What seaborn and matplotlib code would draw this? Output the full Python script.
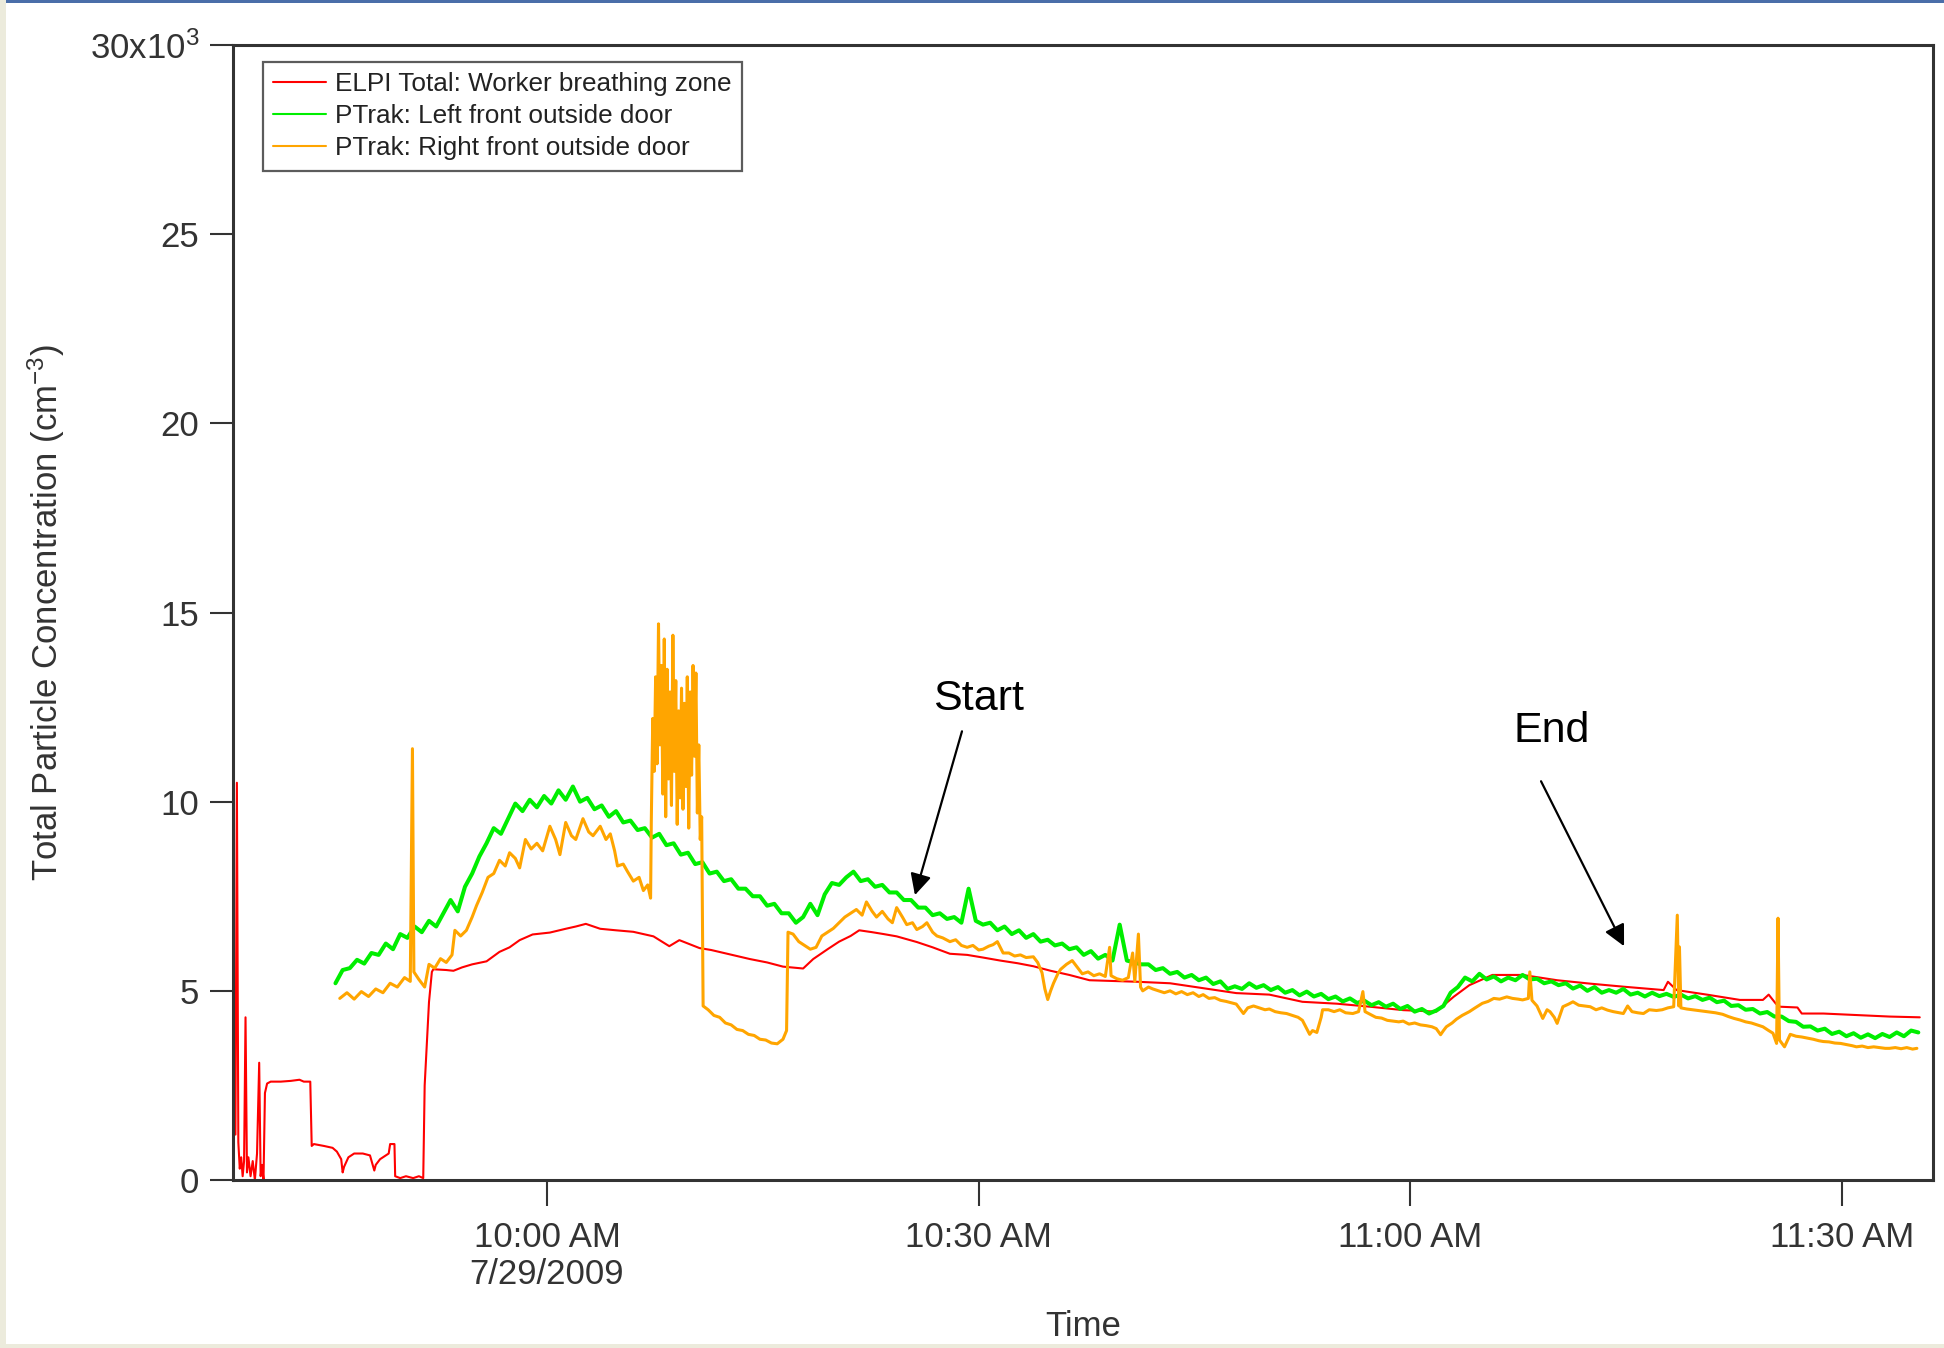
import numpy as np
import pandas as pd
import matplotlib
matplotlib.use("Agg")
import matplotlib.pyplot as plt
from matplotlib.patches import Rectangle
import seaborn as sns

# ---------------------------------------------------------------------------
# Data: minutes relative to 10:00 AM on 7/29/2009, concentrations in 10^3 cm^-3
# ---------------------------------------------------------------------------
T0 = pd.Timestamp("2009-07-29 10:00:00")

series_names = [
    "ELPI Total: Worker breathing zone",
    "PTrak: Left front outside door",
    "PTrak: Right front outside door",
]
series_colors = ["#ff0000", "#00ee00", "#ffa500"]

# ELPI total (worker breathing zone)
elpi_min = [
    -21.65, -21.55, -21.45, -21.35, -21.25, -21.15, -21.05, -20.95, -20.85, -20.75,
    -20.6, -20.45, -20.3, -20.15, -20.0, -19.9, -19.8, -19.7, -19.6, -19.45,
    -19.2, -18.5, -17.8, -17.2, -16.9, -16.45, -16.35, -16.2, -15.5, -14.9,
    -14.6, -14.3, -14.2, -14.1, -13.8, -13.4, -12.8, -12.3, -12.0, -11.9,
    -11.6, -11.2, -11.0, -10.9, -10.6, -10.55, -10.2, -9.8, -9.3, -8.9,
    -8.6, -8.5, -8.35, -8.2, -8.0, -7.9, -7.0, -6.5, -5.9, -5.2,
    -4.2, -3.3, -2.6, -1.9, -1.0, 0.2, 1.3, 2.0, 2.7, 3.7,
    4.8, 6.0, 7.4, 8.5, 9.2, 10.6, 11.4, 12.3, 13.2, 14.1,
    15.3, 16.4, 17.8, 18.5, 19.5, 20.3, 21.1, 21.7, 22.6, 23.4,
    24.3, 25.7, 26.8, 28.0, 29.2, 30.3, 31.5, 32.7, 33.8, 35.0,
    36.3, 37.7, 39.3, 41.0, 43.3, 45.6, 47.9, 50.2, 52.5, 54.9,
    57.2, 59.5, 61.8, 63.0, 64.1, 65.7, 67.8, 70.2, 72.5, 74.8,
    77.6, 77.9, 78.5, 80.6, 82.9, 84.5, 84.9, 85.4, 85.7, 86.9,
    87.2, 88.7, 91.0, 93.3, 95.4,
]
elpi_k = [
    1.2, 10.5, 1.0, 0.3, 0.6, 0.1, 0.5, 4.3, 0.2, 0.6,
    0.1, 0.5, 0.0, 0.7, 3.1, 0.1, 0.4, 0.0, 2.3, 2.55,
    2.6, 2.6, 2.62, 2.65, 2.6, 2.6, 0.9, 0.95, 0.9, 0.85,
    0.75, 0.55, 0.2, 0.35, 0.6, 0.7, 0.7, 0.65, 0.25, 0.4,
    0.55, 0.65, 0.7, 0.95, 0.95, 0.1, 0.05, 0.1, 0.05, 0.1,
    0.05, 2.5, 3.6, 4.7, 5.5, 5.57, 5.55, 5.53, 5.62, 5.7,
    5.78, 6.03, 6.15, 6.34, 6.49, 6.54, 6.64, 6.7, 6.77, 6.64,
    6.6, 6.56, 6.44, 6.18, 6.34, 6.13, 6.08, 6.0, 5.92, 5.84,
    5.75, 5.64, 5.59, 5.84, 6.1, 6.3, 6.45, 6.6, 6.55, 6.5,
    6.44, 6.29, 6.15, 5.98, 5.95, 5.88, 5.8, 5.73, 5.65, 5.53,
    5.42, 5.28, 5.26, 5.24, 5.2, 5.07, 4.94, 4.9, 4.71, 4.66,
    4.58, 4.49, 4.45, 4.84, 5.15, 5.42, 5.42, 5.28, 5.19, 5.11,
    5.02, 5.24, 5.02, 4.9, 4.76, 4.76, 4.9, 4.66, 4.58, 4.56,
    4.4, 4.4, 4.36, 4.32, 4.3,
]

# PTrak left front door: logged every 0.5 min starting at 9:45:18
ptrak_left_start_min = -14.7
ptrak_left_step_min = 0.5
ptrak_left_k = [
    5.2, 5.55, 5.6, 5.82, 5.72, 6.0, 5.95, 6.25, 6.1, 6.5,
    6.4, 6.7, 6.55, 6.85, 6.7, 7.05, 7.4, 7.1, 7.75, 8.1,
    8.55, 8.9, 9.3, 9.15, 9.55, 9.95, 9.75, 10.05, 9.85, 10.15,
    9.95, 10.3, 10.05, 10.4, 10.0, 10.1, 9.8, 9.9, 9.6, 9.75,
    9.45, 9.5, 9.25, 9.3, 9.05, 9.15, 8.85, 8.9, 8.6, 8.65,
    8.35, 8.4, 8.1, 8.15, 7.9, 7.95, 7.7, 7.7, 7.5, 7.5,
    7.25, 7.3, 7.05, 7.05, 6.8, 6.95, 7.3, 7.0, 7.55, 7.85,
    7.8, 8.0, 8.15, 7.9, 7.95, 7.75, 7.8, 7.6, 7.6, 7.4,
    7.4, 7.2, 7.2, 7.0, 7.05, 6.9, 6.95, 6.8, 7.7, 6.85,
    6.75, 6.8, 6.6, 6.7, 6.5, 6.6, 6.4, 6.5, 6.3, 6.35,
    6.2, 6.25, 6.1, 6.15, 5.95, 6.05, 5.85, 5.95, 5.8, 6.75,
    5.8, 5.75, 5.7, 5.7, 5.55, 5.6, 5.45, 5.5, 5.35, 5.42,
    5.28, 5.35, 5.18, 5.25, 5.05, 5.12, 5.05, 5.2, 5.08, 5.15,
    5.02, 5.1, 4.95, 5.02, 4.88, 4.98, 4.85, 4.92, 4.78, 4.85,
    4.72, 4.8, 4.68, 4.74, 4.62, 4.7, 4.58, 4.66, 4.52, 4.6,
    4.45, 4.52, 4.4, 4.48, 4.6, 4.95, 5.1, 5.35, 5.25, 5.45,
    5.3, 5.38, 5.25, 5.35, 5.28, 5.42, 5.3, 5.32, 5.2, 5.25,
    5.15, 5.2, 5.06, 5.14, 5.0, 5.1, 4.95, 5.02, 4.95, 5.05,
    4.9, 4.95, 4.85, 4.95, 4.86, 4.92, 4.84, 4.9, 4.8, 4.86,
    4.76, 4.82, 4.7, 4.74, 4.6, 4.62, 4.5, 4.52, 4.4, 4.44,
    4.32, 4.32, 4.2, 4.18, 4.05, 4.06, 3.95, 4.0, 3.86, 3.92,
    3.8, 3.88, 3.76, 3.85, 3.75, 3.86, 3.78, 3.9, 3.8, 3.95,
    3.9,
]

# PTrak right front door
ptrak_right_min = [
    -14.4, -13.9, -13.4, -12.9, -12.4, -11.9, -11.4, -10.9, -10.4, -9.9,
    -9.5, -9.35, -9.25, -8.9, -8.5, -8.2, -7.8, -7.4, -7.0, -6.6,
    -6.4, -6.0, -5.6, -5.2, -4.9, -4.5, -4.1, -3.7, -3.3, -2.9,
    -2.6, -2.2, -1.9, -1.5, -1.1, -0.7, -0.3, 0.2, 0.6, 0.9,
    1.3, 1.7, 2.0, 2.5, 2.9, 3.2, 3.7, 4.1, 4.4, 4.7,
    4.9, 5.3, 5.6, 6.0, 6.4, 6.7, 7.0, 7.2,
    7.25, 7.35, 7.45, 7.55, 7.65, 7.75, 7.85, 7.95, 8.05, 8.15,
    8.25, 8.35, 8.45, 8.55, 8.65, 8.75, 8.85, 8.95, 9.05, 9.15,
    9.25, 9.35, 9.45, 9.55, 9.65, 9.75, 9.85, 9.95, 10.05, 10.15,
    10.25, 10.35, 10.45, 10.55, 10.65, 10.75, 10.85,
    11.2, 11.6, 12.0, 12.4, 12.8, 13.2, 13.6, 14.0, 14.4, 14.8,
    15.2, 15.6, 16.0, 16.4, 16.65, 16.75, 17.1, 17.5, 17.9, 18.3,
    18.7, 19.1, 19.5, 19.9, 20.3, 20.7, 21.1, 21.5, 21.9, 22.2,
    22.6, 22.9, 23.3, 23.7, 24.0, 24.3, 24.7, 25.0, 25.4, 25.7,
    26.1, 26.4, 26.8, 27.1, 27.5, 28.0, 28.4, 28.8, 29.2, 29.6,
    30.0, 30.3, 30.7, 31.0, 31.3, 31.7, 32.1, 32.5, 32.9, 33.3,
    33.8, 34.1, 34.4, 34.6, 34.8, 35.0, 35.2, 35.5, 35.7, 36.1,
    36.5, 36.9, 37.2, 37.6, 38.0, 38.4, 38.8, 39.1, 39.2, 39.6,
    40.0, 40.4, 40.7, 40.85, 41.1, 41.25, 41.4, 41.8, 42.1, 42.5,
    42.9, 43.3, 43.7, 44.1, 44.5, 44.9, 45.3, 45.6, 46.0, 46.4,
    46.8, 47.2, 47.6, 47.9, 48.2, 48.4, 48.7, 49.1, 49.5, 49.9,
    50.2, 50.6, 51.0, 51.4, 51.8, 52.2, 52.5, 52.8, 53.0, 53.2,
    53.5, 53.8, 53.9, 54.3, 54.7, 55.1, 55.5, 56.0, 56.4, 56.7,
    56.85, 57.2, 57.6, 58.0, 58.4, 58.8, 59.2, 59.5, 59.9, 60.3,
    60.7, 61.1, 61.5, 61.8, 62.1, 62.3, 62.5, 62.9, 63.2, 63.6,
    64.1, 64.5, 65.0, 65.4, 65.8, 66.2, 66.7, 67.1, 67.5, 67.8,
    68.2, 68.3, 68.45, 68.8, 69.2, 69.5, 69.7, 70.0, 70.2, 70.6,
    71.0, 71.3, 71.7, 72.1, 72.5, 72.9, 73.3, 73.7, 74.1, 74.5,
    74.8, 75.1, 75.4, 75.8, 76.2, 76.6, 77.1, 77.5, 77.9, 78.3,
    78.55, 78.65, 78.7, 78.8, 79.2, 79.6, 80.0, 80.4, 80.8, 81.2,
    81.7, 82.1, 82.5, 82.9, 83.3, 83.7, 84.1, 84.5, 84.9, 85.2,
    85.45, 85.55, 85.65, 86.0, 86.4, 86.8, 87.2, 87.6, 88.0, 88.4,
    88.7, 89.1, 89.5, 89.9, 90.3, 90.7, 91.0, 91.4, 91.8, 92.2,
    92.6, 93.0, 93.3, 93.7, 94.1, 94.5, 94.9, 95.2,
]
ptrak_right_k = [
    4.8, 4.95, 4.78, 4.98, 4.85, 5.05, 4.95, 5.2, 5.1, 5.35,
    5.25, 11.4, 5.5, 5.3, 5.1, 5.7, 5.6, 5.85, 5.75, 5.95,
    6.6, 6.45, 6.6, 6.95, 7.25, 7.6, 8.0, 8.1, 8.45, 8.3,
    8.65, 8.5, 8.25, 9.0, 8.75, 8.9, 8.7, 9.35, 9.0, 8.6,
    9.45, 9.1, 9.0, 9.55, 9.2, 9.1, 9.35, 9.0, 9.15, 8.7,
    8.3, 8.35, 8.15, 7.9, 8.0, 7.65, 7.8, 7.45,
    9.5, 12.2, 10.8, 13.3, 11.0, 14.7, 11.5, 13.6, 10.2, 14.3,
    9.6, 13.5, 10.6, 12.9, 9.9, 14.4, 10.8, 13.2, 9.4, 12.4,
    10.1, 13.0, 9.8, 12.6, 10.4, 13.3, 9.3, 12.9, 10.7, 13.6,
    11.2, 13.4, 9.7, 11.5, 9.0, 9.6, 4.6,
    4.5, 4.35, 4.3, 4.15, 4.1, 3.98, 3.95, 3.85, 3.82, 3.72,
    3.7, 3.62, 3.6, 3.72, 3.95, 6.55, 6.5, 6.3, 6.2, 6.1,
    6.15, 6.45, 6.55, 6.65, 6.8, 6.95, 7.05, 7.15, 7.0, 7.35,
    7.1, 6.95, 7.1, 6.9, 6.8, 7.2, 6.95, 6.75, 6.8, 6.62,
    6.7, 6.8, 6.55, 6.45, 6.4, 6.3, 6.35, 6.2, 6.15, 6.2,
    6.08, 6.1, 6.18, 6.22, 6.3, 6.0, 6.0, 5.92, 5.95, 5.88,
    5.9, 5.75, 5.48, 5.05, 4.77, 5.0, 5.2, 5.45, 5.57, 5.7,
    5.8, 5.6, 5.45, 5.5, 5.4, 5.45, 5.38, 6.15, 5.4, 5.32,
    5.28, 5.35, 6.0, 5.25, 6.5, 5.1, 5.0, 5.1, 5.05, 5.0,
    4.95, 5.0, 4.92, 4.98, 4.9, 4.95, 4.85, 4.9, 4.8, 4.82,
    4.75, 4.72, 4.68, 4.65, 4.5, 4.4, 4.55, 4.6, 4.55, 4.5,
    4.52, 4.45, 4.42, 4.4, 4.35, 4.3, 4.22, 4.0, 3.85, 3.95,
    3.9, 4.3, 4.5, 4.5, 4.45, 4.5, 4.42, 4.4, 4.45, 4.98,
    4.45, 4.38, 4.3, 4.28, 4.22, 4.2, 4.18, 4.2, 4.12, 4.15,
    4.1, 4.08, 4.05, 4.0, 3.84, 3.95, 4.05, 4.15, 4.25, 4.35,
    4.45, 4.55, 4.67, 4.72, 4.8, 4.78, 4.84, 4.8, 4.78, 4.76,
    4.8, 5.5, 4.75, 4.6, 4.27, 4.5, 4.45, 4.3, 4.14, 4.58,
    4.65, 4.71, 4.62, 4.6, 4.58, 4.5, 4.55, 4.49, 4.45, 4.42,
    4.4, 4.6, 4.45, 4.42, 4.4, 4.5, 4.48, 4.5, 4.55, 4.58,
    7.0, 4.6, 6.16, 4.55, 4.52, 4.5, 4.48, 4.46, 4.44, 4.42,
    4.38, 4.32, 4.27, 4.23, 4.18, 4.15, 4.1, 4.05, 3.95, 3.88,
    3.61, 6.92, 3.7, 3.52, 3.85, 3.8, 3.78, 3.75, 3.72, 3.68,
    3.66, 3.65, 3.62, 3.61, 3.58, 3.55, 3.52, 3.54, 3.5, 3.52,
    3.5, 3.48, 3.48, 3.5, 3.47, 3.5, 3.46, 3.48,
]

y_tick_values = [0, 5000, 10000, 15000, 20000, 25000, 30000]
y_tick_labels = ["0", "5", "10", "15", "20", "25", r"30x10$^{3}$"]
x_tick_minutes = [0, 30, 60, 90]
x_tick_labels = ["10:00 AM\n7/29/2009", "10:30 AM", "11:00 AM", "11:30 AM"]


def to_times(minutes):
    return T0 + pd.to_timedelta(np.asarray(minutes, dtype=float), unit="min")


def at(minute):
    return T0 + pd.Timedelta(minutes=float(minute))


left_minutes = ptrak_left_start_min + ptrak_left_step_min * np.arange(len(ptrak_left_k))

frames = [
    pd.DataFrame({"time": to_times(elpi_min), "conc": np.array(elpi_k) * 1000}),
    pd.DataFrame({"time": to_times(left_minutes), "conc": np.array(ptrak_left_k) * 1000}),
    pd.DataFrame({"time": to_times(ptrak_right_min), "conc": np.array(ptrak_right_k) * 1000}),
]

# ---------------------------------------------------------------------------
# Styling
# ---------------------------------------------------------------------------
sns.set_style("ticks")
plt.rcParams["font.family"] = ["Liberation Sans", "DejaVu Sans"]
plt.rcParams["mathtext.default"] = "regular"
plt.rcParams["axes.unicode_minus"] = True

W, H = 1944, 1348
fig = plt.figure(figsize=(W / 100, H / 100), dpi=100, facecolor="white")

# window frame around the graph
fig.patches.append(Rectangle((0, 1 - 3 / H), 1, 3 / H, transform=fig.transFigure,
                             facecolor="#4a6ea9", edgecolor="none", zorder=10))
fig.patches.append(Rectangle((0, 0), 6 / W, 1, transform=fig.transFigure,
                             facecolor="#ecebdc", edgecolor="none", zorder=10))
fig.patches.append(Rectangle((0, 0), 1, 4 / H, transform=fig.transFigure,
                             facecolor="#ecebdc", edgecolor="none", zorder=10))

ax_left, ax_right = 233 / W, 1933 / W
ax_bottom, ax_top = (H - 1180) / H, (H - 45) / H
ax = fig.add_axes([ax_left, ax_bottom, ax_right - ax_left, ax_top - ax_bottom])

line_widths = [1.5, 2.9, 2.2]
for df, name, color, lw in zip(frames, series_names, series_colors, line_widths):
    sns.lineplot(data=df, x="time", y="conc", ax=ax, color=color, linewidth=lw,
                 estimator=None, sort=False, label=name)

ax.set_xlim(at(-21.82), at(96.32))
ax.set_ylim(0, 30000)

ax.set_yticks(y_tick_values)
ax.set_yticklabels(y_tick_labels)
ax.set_xticks(to_times(x_tick_minutes))
ax.set_xticklabels(x_tick_labels, linespacing=1.15)

for s in ax.spines.values():
    s.set_visible(True)
    s.set_color("#333333")
    s.set_linewidth(2.2)

ax.tick_params(axis="both", which="major", direction="out", width=1.5,
               color="#333333", labelcolor="#333333", labelsize=25)
ax.tick_params(axis="y", length=16.5, pad=8)
ax.tick_params(axis="x", length=18.5, pad=11)
ax.minorticks_off()

ax.set_xlabel("Time", fontsize=25, color="#333333")
ax.set_ylabel(r"Total Particle Concentration (cm$^{-3}$)", fontsize=25, color="#333333")
ax.xaxis.set_label_coords(0.5, -0.1295)
ax.xaxis.label.set_va("center")
ax.yaxis.set_label_coords(-0.11, 0.5)
ax.yaxis.label.set_va("center")

leg = ax.legend(loc="upper left", bbox_to_anchor=(0.0176, 0.985), borderaxespad=0,
                fontsize=18.8, frameon=True, fancybox=False, shadow=False,
                handlelength=2.0, handletextpad=0.35, labelspacing=0.3,
                borderpad=0.4)
leg.get_frame().set_edgecolor("#333333")
leg.get_frame().set_linewidth(1.6)
for txt in leg.get_texts():
    txt.set_color("#222222")
for h in leg.get_lines():
    h.set_linewidth(1.5)

# Start / End markers of the task
ax.text(at(30.0), 12710, "Start", fontsize=31, family="Liberation Sans",
        ha="center", va="center", color="black")
ax.annotate("", xy=(at(25.57), 7530), xytext=(at(28.84), 11860),
            arrowprops=dict(arrowstyle="-|>", color="black", lw=1.6,
                            mutation_scale=32, shrinkA=0, shrinkB=0))
ax.text(at(69.84), 11860, "End", fontsize=31, family="Liberation Sans",
        ha="center", va="center", color="black")
ax.annotate("", xy=(at(74.85), 6180), xytext=(at(69.08), 10540),
            arrowprops=dict(arrowstyle="-|>", color="black", lw=1.6,
                            mutation_scale=32, shrinkA=0, shrinkB=0))

fig.savefig("out.png", dpi=100, facecolor="white")
